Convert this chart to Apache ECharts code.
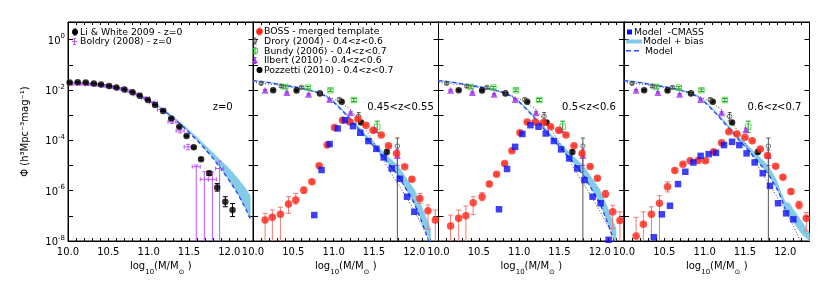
<!DOCTYPE html>
<html><head><meta charset="utf-8"><title>Stellar mass function</title>
<script src="https://cdn.jsdelivr.net/npm/echarts@6.0.0/dist/echarts.min.js"></script>
<style>html,body{margin:0;padding:0;background:#fff;}#chart{width:830px;height:285px;}</style>
</head><body><div id="chart"></div>
<script>
// ===== tick labels / annotations =====
const xTickLabels = ['10.0','10.5','11.0','11.5','12.0'];
const yTickLabels = {'-8':'-8','-6':'-6','-4':'-4','-2':'-2','0':'0'};
const panelLabels = ['z=0','0.45<z<0.55','0.5<z<0.6','0.6<z<0.7'];

// ===== values: log10(M/Msun) and log10(Phi) =====
// Panel 1 (z=0)
const liWhiteM   = [10.02,10.12,10.22,10.32,10.41,10.51,10.60,10.70,10.80,10.89,10.99,11.08,11.18,11.28,11.38,11.47,11.56,11.65,11.75,11.85,11.95,12.04];
const liWhitePhi = [-1.70,-1.69,-1.70,-1.74,-1.78,-1.84,-1.90,-1.98,-2.09,-2.23,-2.40,-2.60,-2.84,-3.13,-3.46,-3.83,-4.28,-4.75,-5.31,-5.87,-6.44,-6.77];
const liWhiteErr = [0.02,0.02,0.02,0.02,0.02,0.02,0.02,0.02,0.02,0.02,0.02,0.02,0.02,0.02,0.02,0.03,0.04,0.05,0.08,0.15,0.20,0.26];

const boldryM     = [10.06,10.16,10.26,10.36,10.46,10.56,10.66,10.76,10.86,10.96,11.06,11.16,11.29,11.39,11.49,11.59,11.69,11.79,11.88];
const boldryPhi   = [-1.76,-1.76,-1.78,-1.80,-1.84,-1.89,-1.96,-2.05,-2.18,-2.33,-2.50,-2.78,-3.27,-3.63,-4.26,-5.05,-5.55,-5.55,-5.12];
const boldryErrLo = [0.05,0.05,0.05,0.05,0.05,0.05,0.05,0.05,0.05,0.05,0.05,0.05,0.06,0.08,0.12,99,99,99,99];
const boldryErrHi = [0.05,0.05,0.05,0.05,0.05,0.05,0.05,0.05,0.05,0.05,0.05,0.05,0.06,0.08,0.10,0.07,0.30,0.30,0.29];
const boldryErrM  = 0.05;

const model1M  = [10.0,10.2,10.4,10.6,10.8,11.0,11.2,11.4,11.6,11.7,11.8,11.9,12.0,12.1,12.2,12.26];
const model1Lo = [-1.70,-1.73,-1.79,-1.90,-2.08,-2.42,-2.85,-3.38,-4.00,-4.35,-4.72,-5.15,-5.60,-6.10,-6.70,-7.10];
const model1Hi = [-1.68,-1.71,-1.77,-1.88,-2.05,-2.38,-2.80,-3.30,-3.88,-4.20,-4.50,-4.82,-5.12,-5.50,-5.90,-6.20];

// Literature points shared by panels 2-4
const droryM     = [10.10,10.35,10.60,10.83,11.07,11.31,11.79];
const droryPhi   = [-1.74,-1.85,-1.90,-2.11,-2.38,-3.05,-4.23];
const droryErrLo = [0.05,0.05,0.05,0.05,0.06,0.18,99];
const droryErrHi = [0.05,0.05,0.05,0.05,0.06,0.15,0.32];
const bundyM     = [10.40,10.68,10.96,11.25,11.54];
const bundyPhi   = [-1.88,-1.91,-2.01,-2.40,-3.46];
const bundyErr   = [0.05,0.05,0.05,0.06,0.22];
const ilbertM    = [10.15,10.42,10.69,10.95,11.21,11.51,11.79];
const ilbertPhi  = [-2.01,-2.10,-2.17,-2.38,-2.91,-3.58,-4.60];
const ilbertErrLo= [0.03,0.03,0.03,0.03,0.04,0.06,0.40];
const ilbertErrHi= [0.03,0.03,0.03,0.03,0.04,0.06,0.22];
const pozzettiM  = [10.25,10.54,10.83,11.10,11.34,11.66];
const pozzettiPhi= [-2.01,-2.02,-2.14,-2.47,-3.29,-4.46];
const pozzettiErr= [0.03,0.03,0.03,0.03,0.05,0.08];
const fitM   = [10.0,10.3,10.6,10.8,11.0,11.2,11.35,11.5,11.7,11.9,12.0,12.1,12.2];
const fitPhi = [-1.70,-1.80,-1.95,-2.10,-2.35,-2.75,-3.33,-4.10,-5.25,-6.25,-6.80,-7.40,-8.10];

// Model (panels 2-3)
const modelM  = [10.0,10.2,10.4,10.6,10.8,10.9,11.0,11.1,11.2,11.3,11.4,11.5,11.6,11.7,11.8,11.9,12.0,12.1,12.2];
const modelLo = [-1.63,-1.71,-1.82,-1.93,-2.10,-2.25,-2.48,-2.80,-3.15,-3.52,-3.90,-4.25,-4.62,-5.00,-5.40,-5.95,-6.50,-7.30,-8.20];
const modelHi = [-1.61,-1.69,-1.80,-1.91,-2.07,-2.21,-2.43,-2.74,-3.07,-3.42,-3.78,-4.10,-4.42,-4.72,-5.02,-5.50,-5.95,-6.70,-7.50];
// Model (panel 4)
const model4M  = [10.0,10.2,10.4,10.6,10.8,10.9,11.0,11.1,11.2,11.3,11.4,11.5,11.6,11.7,11.8,11.9,11.95,12.0,12.05,12.1,12.2,12.3];
const model4Lo = [-1.63,-1.71,-1.82,-1.93,-2.10,-2.25,-2.48,-2.80,-3.15,-3.52,-3.90,-4.25,-4.62,-5.00,-5.40,-5.95,-6.30,-6.75,-7.00,-7.25,-7.70,-8.10];
const model4Hi = [-1.61,-1.69,-1.80,-1.91,-2.07,-2.21,-2.43,-2.74,-3.07,-3.42,-3.78,-4.10,-4.42,-4.72,-5.05,-5.65,-6.10,-6.45,-6.50,-6.75,-7.20,-7.70];

// BOSS merged template
const boss2M   = [10.15,10.24,10.34,10.44,10.53,10.63,10.73,10.82,10.92,11.01,11.11,11.20,11.30,11.40,11.49,11.59,11.68,11.78,11.88,11.97,12.07,12.17,12.26];
const boss2Phi = [-7.17,-7.06,-6.94,-6.53,-6.37,-5.98,-5.65,-5.01,-4.19,-3.49,-3.20,-3.27,-3.15,-3.40,-3.60,-3.79,-4.22,-4.52,-5.05,-5.55,-6.31,-6.80,-7.17];
const boss2Lo  = [99,99,99,0.37,0.16,0.12,0.05,0.03,0.03,0.03,0.03,0.03,0.03,0.03,0.03,0.03,0.03,0.03,0.04,0.06,0.20,0.74,99];
const boss2Hi  = [0.27,0.29,0.28,0.29,0.26,0.12,0.05,0.03,0.03,0.03,0.03,0.03,0.03,0.03,0.03,0.03,0.03,0.03,0.04,0.06,0.20,0.23,0.40];
const boss3M   = [10.15,10.25,10.34,10.43,10.54,10.63,10.72,10.82,10.91,11.01,11.10,11.20,11.30,11.39,11.49,11.58,11.68,11.78,11.88,11.97,12.07,12.16,12.25];
const boss3Phi = [-7.40,-7.10,-7.00,-6.48,-6.24,-5.74,-5.35,-4.92,-4.42,-3.70,-3.27,-3.27,-3.30,-3.46,-3.60,-3.79,-4.22,-4.52,-5.04,-5.51,-6.13,-6.84,-7.19];
const boss3Lo  = [99,99,99,0.47,0.16,0.08,0.04,0.03,0.03,0.03,0.03,0.03,0.03,0.03,0.03,0.03,0.03,0.03,0.04,0.06,0.13,0.67,99];
const boss3Hi  = [0.43,0.33,0.39,0.24,0.16,0.08,0.04,0.03,0.03,0.03,0.03,0.03,0.03,0.03,0.03,0.03,0.03,0.03,0.04,0.06,0.13,0.26,0.35];
const boss4M   = [10.15,10.24,10.34,10.44,10.54,10.63,10.73,10.82,10.92,11.01,11.11,11.21,11.30,11.40,11.50,11.59,11.69,11.78,11.88,11.97,12.07,12.17,12.26];
const boss4Phi = [-7.80,-7.33,-6.94,-6.50,-5.85,-5.20,-4.95,-4.81,-4.80,-4.81,-4.45,-4.10,-3.66,-3.75,-3.88,-4.02,-4.35,-4.60,-5.03,-5.47,-6.03,-6.57,-7.10];
const boss4Lo  = [99,99,99,99,0.20,0.06,0.03,0.03,0.03,0.03,0.03,0.03,0.03,0.03,0.03,0.03,0.03,0.03,0.04,0.05,0.08,0.15,0.50];
const boss4Hi  = [0.74,0.49,0.30,0.30,0.20,0.06,0.03,0.03,0.03,0.03,0.03,0.03,0.03,0.03,0.03,0.03,0.03,0.03,0.04,0.05,0.08,0.15,0.23];

// Model - CMASS
const cmass2M   = [10.76,10.85,10.95,11.05,11.14,11.24,11.33,11.43,11.53,11.62,11.72,11.82,11.91,12.00];
const cmass2Phi = [-6.97,-5.18,-4.15,-3.53,-3.20,-3.44,-3.70,-4.03,-4.34,-4.68,-5.12,-5.53,-6.24,-6.84];
const cmass3M   = [10.75,10.85,10.95,11.04,11.14,11.24,11.33,11.43,11.52,11.62,11.72,11.81,11.91,12.01,12.11];
const cmass3Phi = [-6.74,-5.14,-4.26,-3.75,-3.40,-3.46,-3.73,-4.03,-4.36,-4.72,-5.12,-5.58,-6.24,-6.50,-7.95];
const cmass4M   = [10.37,10.47,10.57,10.67,10.76,10.86,10.95,11.05,11.14,11.24,11.34,11.43,11.52,11.62,11.72,11.81,11.91,12.01,12.10];
const cmass4Phi = [-7.85,-6.94,-6.60,-5.74,-5.25,-4.88,-4.62,-4.55,-4.50,-4.19,-4.06,-4.19,-4.52,-4.88,-5.31,-5.81,-6.50,-6.90,-7.14];

// ===== layout / style =====
const F = 'DejaVu Sans';
const LEFTS = [68, 253, 438.5, 624], PW = 185.5, TOP = 22, PH = 219;
const C = {red:'#ff2418', redErr:'#f27a72', blue:'#0c10f4', band:'#84cbea', dash:'#2a3cff',
           mag:'#bb55ff', purple:'#a236ee', green:'#36d336', greenErr:'#1f9e1f', gray:'#555555', black:'#000'};
const P = v => Math.pow(10, v);

function sc(g, xs, ys, symbol, size, style, z) {
  return {type:'scatter', xAxisIndex:2*g, yAxisIndex:2*g, symbol, symbolSize:size, itemStyle:style,
          z:z, silent:true, clip:true, data: xs.map((x,i)=>[x, P(ys[i])])};
}
function ln(g, xs, ys, lineStyle, z) {
  return {type:'line', xAxisIndex:2*g, yAxisIndex:2*g, showSymbol:false, symbol:'none', silent:true,
          clip:true, z:z, lineStyle, data: xs.map((x,i)=>[x, P(ys[i])])};
}
function errs(g, xs, ys, lo, hi, color, o) {
  o = o || {};
  const cap = o.cap == null ? 2 : o.cap, lw = o.lw || 1, xe = o.xe || 0;
  const data = xs.map((x,i)=>[x, P(ys[i]), P(ys[i]-lo[i]), P(ys[i]+hi[i])]);
  return {type:'custom', xAxisIndex:2*g, yAxisIndex:2*g, z:o.z||4, silent:true,
    dimensions:['x','y','lo','hi'], encode:{x:0, y:1}, data,
    renderItem(params, api) {
      const cs = params.coordSys, top = cs.y, bot = cs.y + cs.height;
      const x = api.value(0);
      const pc = api.coord([x, api.value(1)]);
      const pl = api.coord([x, api.value(2)]);
      const ph = api.coord([x, api.value(3)]);
      const cl = v => Math.max(top, Math.min(bot, v));
      const st = {stroke:color, lineWidth:lw};
      const ch = [{type:'line', shape:{x1:pc[0], y1:cl(ph[1]), x2:pc[0], y2:cl(pl[1])}, style:st}];
      if (cap > 0) {
        if (ph[1] >= top && ph[1] <= bot) ch.push({type:'line', shape:{x1:pc[0]-cap, y1:ph[1], x2:pc[0]+cap, y2:ph[1]}, style:st});
        if (pl[1] >= top && pl[1] <= bot) ch.push({type:'line', shape:{x1:pc[0]-cap, y1:pl[1], x2:pc[0]+cap, y2:pl[1]}, style:st});
      }
      if (xe > 0 && pc[1] <= bot) {
        const a = api.coord([x - xe, api.value(1)]), b = api.coord([x + xe, api.value(1)]);
        ch.push({type:'line', shape:{x1:a[0], y1:pc[1], x2:b[0], y2:pc[1]}, style:st});
        ch.push({type:'line', shape:{x1:a[0], y1:pc[1]-2, x2:a[0], y2:pc[1]+2}, style:st});
        ch.push({type:'line', shape:{x1:b[0], y1:pc[1]-2, x2:b[0], y2:pc[1]+2}, style:st});
      }
      return {type:'group', children:ch};
    }};
}
function band(g, xs, lo, hi, color, z) {
  const data = xs.map((x,i)=>[x, P(lo[i]), P(hi[i])]);
  return {type:'custom', xAxisIndex:2*g, yAxisIndex:2*g, z:z, silent:true,
    dimensions:['x','lo','hi'], encode:{x:0, y:1}, data,
    renderItem(params, api) {
      if (params.dataIndexInside !== 0) return null;
      const cs = params.coordSys, bot = cs.y + cs.height;
      const up = [], dn = [];
      for (let i = 0; i < data.length; i++) {
        const x = api.value(0, i);
        up.push(api.coord([x, api.value(2, i)]));
        dn.push(api.coord([x, api.value(1, i)]));
      }
      const pts = up.concat(dn.reverse()).map(p => [p[0], Math.min(bot, p[1])]);
      return {type:'polygon', shape:{points:pts}, style:{fill:color, stroke:color, lineWidth:0.6}};
    }};
}

// ===== axes =====
const grid = [], xAxis = [], yAxis = [];
const xTitleRich = {
  a:{fontFamily:F, fontSize:10, color:'#000', lineHeight:14, verticalAlign:'top'},
  b:{fontFamily:F, fontSize:7, color:'#000', lineHeight:14, verticalAlign:'bottom'}
};
const yLabRich = {
  b:{fontFamily:F, fontSize:10, color:'#000', lineHeight:13, verticalAlign:'bottom'},
  s:{fontFamily:F, fontSize:7, color:'#000', lineHeight:13, verticalAlign:'top'}
};
for (let g = 0; g < 4; g++) {
  grid.push({left:LEFTS[g], top:TOP, width:PW, height:PH, show:true, borderColor:'#000', borderWidth:1,
             backgroundColor:'rgba(0,0,0,0)', containLabel:false, outerBoundsMode:'none'});
  const xc = {gridIndex:g, type:'value', min:10, max:12.3, interval:0.1, splitLine:{show:false},
    axisLine:{show:true, onZero:false, lineStyle:{color:'#000', width:1}},
    axisTick:{show:true, inside:true, length:3, lineStyle:{color:'#000', width:1}}};
  xAxis.push(Object.assign({}, xc, {position:'bottom',
    axisLabel:{show:true, margin:6, color:'#000', fontFamily:F, fontSize:10, showMaxLabel:true, showMinLabel:true,
      formatter: v => { const s = v.toFixed(1); return (Math.abs(v*2 - Math.round(v*2)) < 1e-6 && xTickLabels.includes(s)) ? s : ''; }},
    name:'{a|log}{b|10}{a|(M/M}{b|⊙}{a| )}', nameLocation:'middle', nameGap:19,
    nameTextStyle:{rich:xTitleRich}}));
  xAxis.push(Object.assign({}, xc, {position:'top', axisLabel:{show:false}}));
  const yc = {gridIndex:g, type:'log', logBase:10, min:1e-8, max:5, splitLine:{show:false},
    axisLine:{show:true, onZero:false, lineStyle:{color:'#000', width:1}},
    axisTick:{show:true, inside:true, length:5, lineStyle:{color:'#000', width:1}}, minorTick:{show:false}};
  yAxis.push(Object.assign({}, yc, {position:'left',
    axisLabel: g === 0 ? {show:true, margin:3, color:'#000', fontFamily:F, fontSize:10, rich:yLabRich,
      formatter: v => { const e = Math.log10(v), r = Math.round(e); if (Math.abs(e - r) > 1e-6) return ''; const t = yTickLabels[String(r)]; return t ? '{b|10}{s|' + t + '}' : ''; }}
      : {show:false}}));
  yAxis.push(Object.assign({}, yc, {position:'right', axisLabel:{show:false}}));
}

// ===== series =====
const series = [];
// Panel 1
series.push(band(0, model1M, model1Lo, model1Hi, C.band, 1));
series.push(ln(0, model1M, model1Lo, {color:C.dash, width:1.3, type:[4,3]}, 3));
series.push(errs(0, boldryM, boldryPhi, boldryErrLo, boldryErrHi, C.mag, {cap:2, xe:boldryErrM, z:4}));
series.push(errs(0, liWhiteM, liWhitePhi, liWhiteErr, liWhiteErr, C.black, {cap:2.5, z:5}));
series.push(sc(0, liWhiteM, liWhitePhi, 'circle', 6.5, {color:C.black}, 6));

const bossSets  = [null, [boss2M,boss2Phi,boss2Lo,boss2Hi], [boss3M,boss3Phi,boss3Lo,boss3Hi], [boss4M,boss4Phi,boss4Lo,boss4Hi]];
const cmassSets = [null, [cmass2M,cmass2Phi], [cmass3M,cmass3Phi], [cmass4M,cmass4Phi]];
for (let g = 1; g < 4; g++) {
  if (g < 3) {
    series.push(band(g, modelM, modelLo, modelHi, C.band, 1));
    series.push(ln(g, modelM, modelLo, {color:C.dash, width:1.3, type:[4,3]}, 3));
  } else {
    series.push(band(g, model4M, model4Lo, model4Hi, C.band, 1));
    series.push(ln(g, model4M.slice(0, 18), model4Lo.slice(0, 18), {color:C.dash, width:1.3, type:[4,3]}, 3));
  }
  series.push(ln(g, fitM, fitPhi, {color:'#222', width:0.9, type:[1,2]}, 2));
  // literature
  series.push(errs(g, droryM, droryPhi, droryErrLo, droryErrHi, C.gray, {cap:2, z:6}));
  series.push(sc(g, droryM, droryPhi, 'circle', 4.5, {color:'rgba(255,255,255,0)', borderColor:C.gray, borderWidth:1}, 5));
  series.push(errs(g, bundyM, bundyPhi, bundyErr, bundyErr, C.greenErr, {cap:2.5, z:4}));
  series.push(sc(g, bundyM, bundyPhi, 'rect', 5.5, {color:'rgba(255,255,255,0)', borderColor:C.green, borderWidth:1}, 5));
  series.push(errs(g, ilbertM, ilbertPhi, ilbertErrLo, ilbertErrHi, C.purple, {cap:2, z:4}));
  series.push(sc(g, ilbertM, ilbertPhi, 'triangle', 7, {color:C.purple}, 5));
  series.push(errs(g, pozzettiM, pozzettiPhi, pozzettiErr, pozzettiErr, C.black, {cap:2, z:4}));
  series.push(sc(g, pozzettiM, pozzettiPhi, 'circle', 6.5, {color:C.black}, 5));
  // BOSS
  const b = bossSets[g];
  series.push(errs(g, b[0], b[1], b[2], b[3], C.redErr, {cap:2.5, z:6}));
  series.push(sc(g, b[0], b[1], 'circle', 7.5, {color:C.red}, 7));
  // Model - CMASS
  const c = cmassSets[g];
  series.push(sc(g, c[0], c[1], 'rect', 6.5, {color:C.blue}, 8));
}

// ===== legends & annotations (graphic) =====
const gx = [];
function gText(x, y, text, size) {
  gx.push({type:'text', x, y, silent:true, z:100,
    style:{text, fill:'#000', font:(size||9.3) + 'px "DejaVu Sans"', textAlign:'left', textVerticalAlign:'middle', align:'left', verticalAlign:'middle'}});
}
function gLine(x1, y1, x2, y2, color, w, dash) {
  gx.push({type:'line', silent:true, z:100, shape:{x1,y1,x2,y2}, style:{stroke:color, lineWidth:w||1, lineDash:dash||null}});
}
function gBar(x, y, h, color, cap) {
  gLine(x, y-h, x, y+h, color, 1); gLine(x-cap, y-h, x+cap, y-h, color, 1); gLine(x-cap, y+h, x+cap, y+h, color, 1);
}
function gCircle(cx, cy, r, fill, stroke) {
  gx.push({type:'circle', silent:true, z:101, shape:{cx,cy,r}, style:{fill:fill, stroke:stroke||null, lineWidth:1}});
}
function gRect(x, y, w, h, fill, stroke) {
  gx.push({type:'rect', silent:true, z:101, shape:{x,y,width:w,height:h}, style:{fill:fill, stroke:stroke||null, lineWidth:1}});
}
function gTri(cx, cy, s, fill) {
  gx.push({type:'polygon', silent:true, z:101, shape:{points:[[cx, cy-s], [cx+s, cy+s*0.8], [cx-s, cy+s*0.8]]}, style:{fill}});
}
// panel 1 legend
gBar(75, 32, 3, C.black, 1.5); gCircle(75, 32, 3, C.black);
gText(80, 32.5, 'Li & White 2009 - z=0');
gBar(74.5, 41.5, 3, C.mag, 1.5); gLine(72, 41.5, 77, 41.5, C.mag, 1);
gText(80, 42, 'Boldry (2008) - z=0');
// panel 2 legend
gBar(259.5, 31.5, 3.5, C.redErr, 1.5); gCircle(259.5, 31.5, 3.3, C.red);
gText(264, 32, 'BOSS - merged template');
gBar(255, 41, 3, C.gray, 1.5); gCircle(255, 41, 1.8, 'rgba(255,255,255,0)', C.gray);
gText(264, 41.5, 'Drory (2004) - 0.4<z<0.6');
gBar(255, 50.8, 3, C.greenErr, 1.5); gRect(252.7, 48.5, 4.6, 4.6, 'rgba(255,255,255,0)', C.green);
gText(264, 51.3, 'Bundy (2006) - 0.4<z<0.7');
gBar(255, 60.5, 3, C.purple, 1.5); gTri(255, 60.8, 2.8, C.purple);
gText(264, 61, 'Ilbert (2010) - 0.4<z<0.6');
gBar(259.5, 70, 2.5, C.black, 1.5); gCircle(259.5, 70, 3, C.black);
gText(264, 70.5, 'Pozzetti (2010) - 0.4<z<0.7');
// panel 4 legend
gRect(627, 29.5, 5, 5, C.blue);
gText(634, 32.5, 'Model  -CMASS');
gRect(626, 39.5, 16, 4, C.band);
gText(643, 42, 'Model + bias');
gLine(626, 50.8, 631, 50.8, C.dash, 1.4); gLine(634, 50.8, 639, 50.8, C.dash, 1.4);
gText(645, 51.3, 'Model');
// panel labels
const labelX = [222.7, 400.5, 589, 774.5];
panelLabels.forEach((t, i) => {
  gx.push({type:'text', x:labelX[i], y:107, silent:true, z:100,
    style:{text:t, fill:'#000', font:'10px "DejaVu Sans"', textAlign:'center', textVerticalAlign:'middle', align:'center', verticalAlign:'middle'}});
});
// y-axis title
gx.push({type:'text', x:25, y:131.5, rotation:Math.PI/2, silent:true, z:100,
  style:{text:'Φ (h³Mpc⁻³mag⁻¹)', fill:'#000', font:'10px "DejaVu Sans"', textAlign:'center', textVerticalAlign:'middle', align:'center', verticalAlign:'middle'}});

const chart = echarts.init(document.getElementById('chart'), null, {renderer:'canvas'});
chart.setOption({
  animation:false, backgroundColor:'#fff',
  textStyle:{fontFamily:F},
  grid, xAxis, yAxis, series, graphic:gx
});
</script></body></html>
